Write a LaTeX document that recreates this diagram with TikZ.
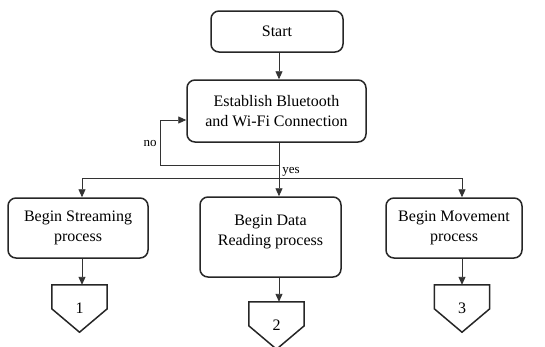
\documentclass[tikz,border=0pt]{standalone}
\usepackage{fontspec}
\setmainfont{Liberation Serif}
\usetikzlibrary{calc}
\usetikzlibrary{positioning}
\usetikzlibrary{arrows.meta}

\newcommand{\offpage}[1]{%
	\draw[off line] (#1.north west) -- (#1.north east) -- ++(0,24) -- (#1.south) -- ([yshift=-24pt]#1.north west) -- cycle;}

\begin{document}
\begin{tikzpicture}[x=1pt, y=-1pt,
		b/.style = {rectangle, rounded corners=8pt, draw=black!85, line width=1.5pt, align=center, font=\fontsize{16}{20}\selectfont},
		off/.style = {rectangle, inner sep=0pt, minimum width=55pt, minimum height=47pt, font=\fontsize{16}{20}\selectfont},
		off line/.style = {draw=black!85, line width=1.5pt, line join=miter},
		lbl/.style = {font=\fontsize{13}{15}\selectfont, inner sep=1pt},
		r/.style = {-{Triangle[length=8pt, width=7pt]}, line width=0.9pt, draw=black!80}
		]
		\useasboundingbox (0,0) rectangle (545,346);
		
		%Nodes
		\node[b, minimum width=132pt, minimum height=41pt]	(start)	at	(277, 31.5)	{Start};
		\node[b, minimum width=179pt, minimum height=62pt]	(conn)	at	(276.5, 111)	{Establish Bluetooth\\and Wi-Fi Connection};
		\node[b, minimum width=140pt, minimum height=60pt]	(stream)	at	(78, 228)	{Begin Streaming\\process};
		\node[b, minimum width=141pt, minimum height=80pt]	(data)	at	(270.5, 237)	{Begin Data\\Reading process\\[-6pt]\mbox{}};
		\node[b, minimum width=136pt, minimum height=60pt]	(move)	at	(454, 228)	{Begin Movement\\process};
		\node[off]	(p1)	at	(79.5, 308.5)	{1};
		\node[off]	(p2)	at	(276.5, 325.5)	{2};
		\node[off]	(p3)	at	(462, 308.5)	{3};
		\offpage{p1}
		\offpage{p2}
		\offpage{p3}
		
		\coordinate	(loop)	at	(279, 165);
		\coordinate	(nocorner)	at	(160, 165);
		\coordinate	(split)	at	(279, 178);
		\coordinate	(bl)	at	(82, 178);
		\coordinate	(br)	at	(462, 178);
		
		%Lines
		\draw[r]	(start.south -| split)	to	(split |- conn.north);
		\draw[r]	(loop)	--	(nocorner)	|-	([yshift=-9pt]conn.west);
		\draw[r, -]	(conn.south -| split)	to	(split);
		\draw[r, -]	(bl)	to	(br);
		\draw[r]	(bl)	to	(bl |- stream.north);
		\draw[r]	(split)	to	(split |- data.north);
		\draw[r]	(br)	to	(br |- move.north);
		\draw[r]	(stream.south -| bl)	to	(p1.north -| bl);
		\draw[r]	(data.south -| split)	to	(p2.north -| split);
		\draw[r]	(move.south -| br)	to	(p3.north -| br);
		
		%Labels
		\node[lbl]	(no)	at	(150, 143)	{no};
		\node[lbl]	(yes)	at	(291, 172)	{yes};
	\end{tikzpicture}
\end{document}
